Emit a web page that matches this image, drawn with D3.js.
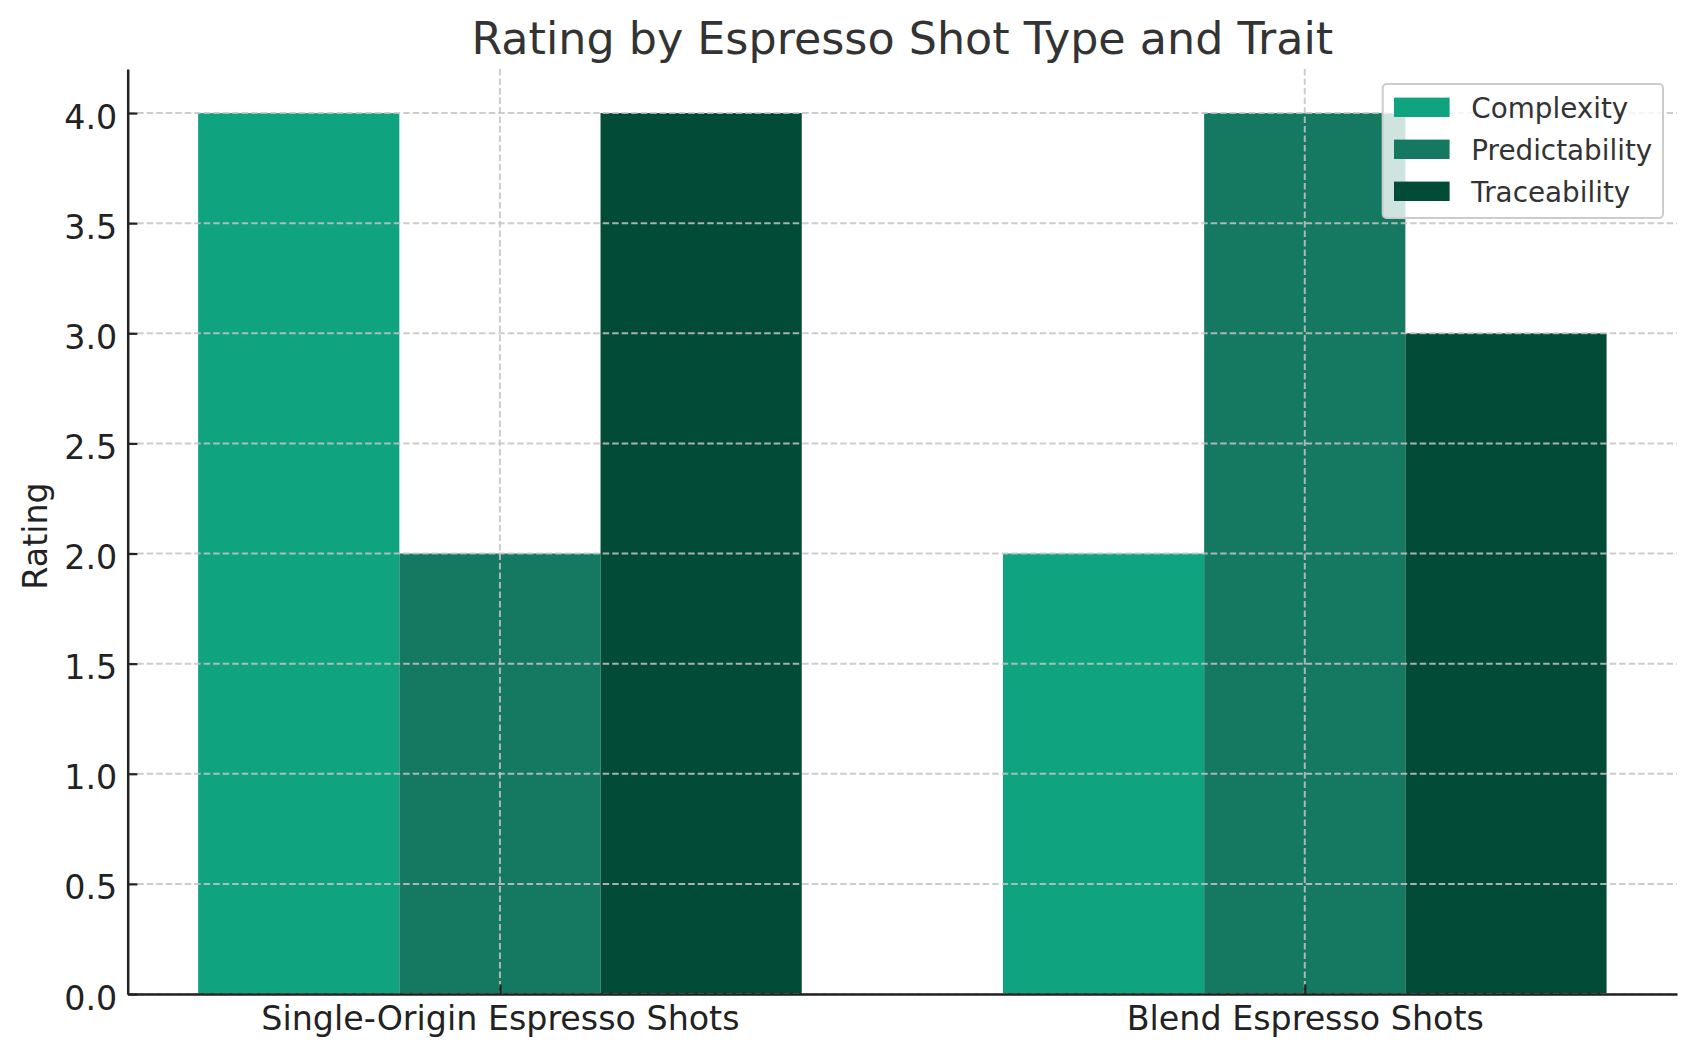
<!DOCTYPE html>
<html>
<head>
<meta charset="utf-8">
<script src="https://cdn.jsdelivr.net/npm/d3@7"></script>
<style>
  html, body { margin: 0; padding: 0; background: #ffffff; }
  svg { display: block; font-family: "DejaVu Sans", sans-serif; }
</style>
</head>
<body>
<svg id="chart" width="1697" height="1057"></svg>
<script>
// ---- data ----
const categories = ["Single-Origin Espresso Shots", "Blend Espresso Shots"];
const traits = ["Complexity", "Predictability", "Traceability"];
const complexity = [4, 2];
const predictability = [2, 4];
const traceability = [4, 3];
const yTicks = [0, 0.5, 1.0, 1.5, 2.0, 2.5, 3.0, 3.5, 4.0];
const title = "Rating by Espresso Shot Type and Trait";
const yLabel = "Rating";
const colors = ["#10a37f", "#147960", "#024b36"];
const seriesValues = [complexity, predictability, traceability];

// ---- layout ----
const L = 127.7, R = 1677, T = 69, B = 994;
const barW = 0.25;
const svg = d3.select("#chart");

const x = d3.scaleLinear().domain([-0.4625, 1.4625]).range([L, R]);
const y = d3.scaleLinear().domain([0, 4.2]).range([B, T]);
const offsets = [-barW, 0, barW];

// bars
const barData = [];
seriesValues.forEach((vals, s) => {
  vals.forEach((v, i) => barData.push({ s, i, v }));
});
svg.append("g").selectAll("rect").data(barData).join("rect")
  .attr("x", d => x(d.i + offsets[d.s] - barW / 2))
  .attr("width", d => x(d.i + offsets[d.s] + barW / 2) - x(d.i + offsets[d.s] - barW / 2))
  .attr("y", d => y(d.v))
  .attr("height", d => y(0) - y(d.v))
  .attr("fill", d => colors[d.s]);

// grid (drawn over bars)
const grid = svg.append("g").attr("stroke", "#c4c4c4").attr("stroke-opacity", 0.85)
  .attr("stroke-width", 2).attr("stroke-dasharray", "6.5,3");
grid.selectAll("line.h").data(yTicks).join("line").attr("class", "h")
  .attr("x1", L).attr("x2", R).attr("y1", d => y(d)).attr("y2", d => y(d));
grid.selectAll("line.v").data(categories.map((c, i) => i)).join("line").attr("class", "v")
  .attr("x1", d => x(d)).attr("x2", d => x(d)).attr("y1", T).attr("y2", B);

// axes
const yAxis = d3.axisLeft(y).tickValues(yTicks).tickFormat(d3.format(".1f"))
  .tickSizeInner(-9.7).tickSizeOuter(0).tickPadding(20);
const gy = svg.append("g").attr("transform", `translate(${L},0)`).call(yAxis);
gy.select(".domain").attr("stroke", "#222").attr("stroke-width", 2.5);
gy.selectAll(".tick line").attr("stroke", "#222").attr("stroke-width", 2.2);
gy.selectAll(".tick text").attr("fill", "#222").attr("font-size", "33.3px")
  .attr("font-family", "DejaVu Sans").attr("dy", "0.45em").attr("x", -10.5);

const xAxis = d3.axisBottom(x).tickValues(categories.map((c, i) => i))
  .tickFormat(i => categories[i]).tickSizeInner(-9.7).tickSizeOuter(0).tickPadding(0);
const gx = svg.append("g").attr("transform", `translate(0,${B})`).call(xAxis);
gx.select(".domain").attr("stroke", "#222").attr("stroke-width", 2.5);
gx.selectAll(".tick line").attr("stroke", "#222").attr("stroke-width", 2.2);
gx.selectAll(".tick text").attr("fill", "#222").attr("font-size", "33.3px")
  .attr("font-family", "DejaVu Sans").attr("dy", null).attr("y", 36);

// title
svg.append("text").attr("x", (L + R) / 2).attr("y", 53.5).attr("text-anchor", "middle")
  .attr("font-size", "44.4px").attr("fill", "#333").text(title);

// y label
svg.append("text").attr("transform", `translate(47,536) rotate(-90)`)
  .attr("text-anchor", "middle").attr("font-size", "33.3px").attr("fill", "#222").text(yLabel);

// legend
const lg = svg.append("g");
lg.append("rect").attr("x", 1382.7).attr("y", 84).attr("width", 280.3).attr("height", 134)
  .attr("rx", 4).attr("fill", "#fff").attr("fill-opacity", 0.8)
  .attr("stroke", "#cccccc").attr("stroke-width", 2);
const rows = lg.selectAll("g.row").data(traits).join("g").attr("class", "row")
  .attr("transform", (d, i) => `translate(0,${107.3 + i * 42})`);
rows.append("rect").attr("x", 1394).attr("y", -9.7).attr("width", 55.6).attr("height", 19.4)
  .attr("fill", (d, i) => colors[i]);
rows.append("text").attr("x", 1471.3).attr("y", 10.4).attr("font-size", "27.8px")
  .attr("fill", "#333").text(d => d);
</script>
</body>
</html>
